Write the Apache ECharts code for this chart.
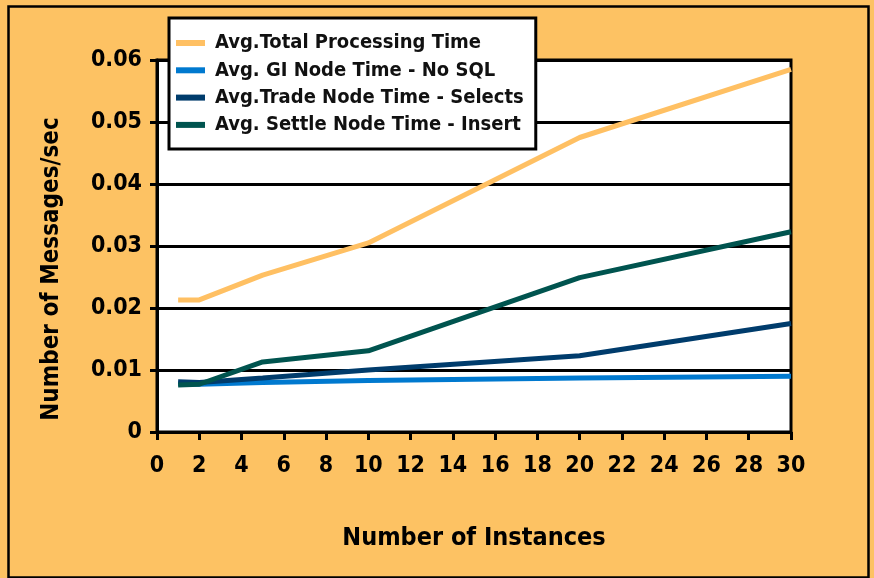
<!DOCTYPE html>
<html>
<head>
<meta charset="utf-8">
<script src="https://cdn.jsdelivr.net/npm/echarts@6/dist/echarts.min.js"></script>
<style>html,body{margin:0;padding:0;background:#FDC263;}#c{width:874px;height:578px;}</style>
</head>
<body>
<div id="c"></div>
<script>
var instances = [1, 2, 5, 10, 20, 30];
var totalTime  = [0.0213, 0.0213, 0.0253, 0.0305, 0.0475, 0.0585];
var giTime     = [0.0078, 0.0077, 0.0080, 0.0083, 0.0087, 0.0090];
var tradeTime  = [0.0081, 0.0080, 0.0087, 0.0100, 0.0123, 0.0175];
var settleTime = [0.0076, 0.0077, 0.0113, 0.0131, 0.0249, 0.0323];
var seriesNames = ['Avg.Total Processing Time', 'Avg. GI Node Time - No SQL', 'Avg.Trade Node Time - Selects', 'Avg. Settle Node Time - Insert'];
var seriesColors = ['#FFC063', '#0079CF', '#003C6C', '#00544F'];
var xTicks = [0, 2, 4, 6, 8, 10, 12, 14, 16, 18, 20, 22, 24, 26, 28, 30];
var yTicks = [0, 0.01, 0.02, 0.03, 0.04, 0.05, 0.06];

function pairs(v) { return instances.map(function (x, i) { return [x, v[i]]; }); }
var allValues = [totalTime, giTime, tradeTime, settleTime];
var FONT = '"DejaVu Sans Condensed", "DejaVu Sans", sans-serif';

var chart = echarts.init(document.getElementById('c'));
chart.setOption({
  backgroundColor: '#FDC263',
  animation: false,
  textStyle: { fontFamily: FONT },
  graphic: [{
    type: 'rect', left: 6, top: 4, z: 100, silent: true,
    shape: { width: 860, height: 571 },
    style: { fill: 'none', stroke: '#000', lineWidth: 2.5 }
  }],
  grid: {
    left: 157, right: 83, top: 60, bottom: 146,
    show: true, backgroundColor: '#FFFFFF', borderColor: '#000', borderWidth: 3
  },
  legend: {
    orient: 'vertical', left: 169, top: 18,
    backgroundColor: '#FFFFFF', borderColor: '#000', borderWidth: 3,
    padding: [15, 12, 14, 7], itemGap: 7.3,
    itemWidth: 29, itemHeight: 6, icon: 'rect',
    textStyle: { fontFamily: FONT, fontSize: 20, fontWeight: 'bold', color: '#111', lineHeight: 20, padding: [0, 0, 0, 5] },
    data: seriesNames
  },
  xAxis: {
    type: 'value', min: xTicks[0], max: xTicks[xTicks.length - 1], interval: 2,
    name: 'Number of Instances', nameLocation: 'middle', nameGap: 94,
    nameTextStyle: { fontFamily: FONT, fontSize: 25, fontWeight: 'bold', color: '#000' },
    axisLine: { show: true, lineStyle: { color: '#000', width: 3 } },
    axisTick: { show: true, length: 8, inside: false, lineStyle: { color: '#000', width: 3 } },
    axisLabel: { margin: 23, fontFamily: FONT, fontSize: 23, fontWeight: 'bold', color: '#000' },
    splitLine: { show: false }
  },
  yAxis: {
    type: 'value', min: yTicks[0], max: yTicks[yTicks.length - 1], interval: 0.01,
    name: 'Number of Messages/sec', nameLocation: 'middle', nameGap: 93,
    nameTextStyle: { fontFamily: FONT, fontSize: 24, fontWeight: 'bold', color: '#000', padding: [0, 46, 0, 0] },
    axisLine: { show: true, lineStyle: { color: '#000', width: 3 } },
    axisTick: { show: true, length: 7, lineStyle: { color: '#000', width: 3 } },
    axisLabel: { margin: 15, fontFamily: FONT, fontSize: 23, fontWeight: 'bold', color: '#000',
      formatter: function (v) { return v === 0 ? '0' : v.toFixed(2); } },
    splitLine: { show: true, lineStyle: { color: '#000', width: 3 } }
  },
  series: seriesNames.map(function (n, i) {
    return {
      name: n, type: 'line', data: pairs(allValues[i]),
      showSymbol: false, symbol: 'none',
      lineStyle: { color: seriesColors[i], width: 5 },
      itemStyle: { color: seriesColors[i] },
      z: 3 + i
    };
  })
});
</script>
</body>
</html>
